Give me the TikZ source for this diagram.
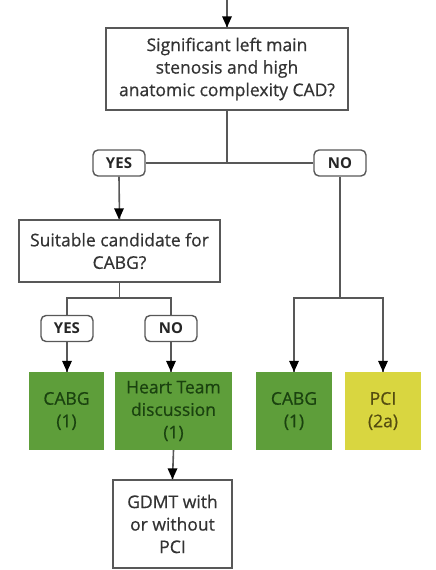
\documentclass[tikz,border=0pt]{standalone}
\usepackage{fontspec}
\setmainfont{Open Sans}
\newfontfamily\medfont{Open Sans}[FakeBold=0.6]
\definecolor{linegray}{HTML}{585858}
\definecolor{txtgray}{HTML}{333333}
\definecolor{recgreen}{HTML}{5E9E3A}
\definecolor{recgreentxt}{HTML}{1A420F}
\definecolor{recyellow}{HTML}{D9D640}
\definecolor{recyellowtxt}{HTML}{544C10}
\tikzset{
  conn/.style={draw=linegray, line width=1.6pt},
  tiphead/.style={fill=black, draw=none},
  qbox/.style={draw=linegray, line width=1.4pt, fill=white, text=txtgray,
    align=center, inner sep=2pt, font=\medfont\fontsize{17.5}{22.5}\selectfont},
  pill/.style={draw=linegray, line width=1.4pt, rounded corners=5pt, fill=white,
    minimum width=52pt, minimum height=26pt, inner sep=0pt,
    font=\bfseries\fontsize{15}{17}\selectfont, text=black!85},
  recbox/.style={fill=recgreen, text=recgreentxt, align=center, inner sep=2pt,
    minimum height=78pt, font=\medfont\fontsize{17.5}{22.5}\selectfont},
  pcibox/.style={recbox, fill=recyellow, text=recyellowtxt},
}
\begin{document}
\begin{tikzpicture}[x=1pt, y=1pt]
\useasboundingbox (0,0) rectangle (436,-570);

% decision boxes
\node[qbox, minimum width=242pt, minimum height=82pt] (q1) at (227,-69)
  {Significant left main\\stenosis and high\\anatomic complexity CAD?};
\node[qbox, minimum width=201pt, minimum height=62pt] (q2) at (119.5,-251)
  {Suitable candidate for\\CABG?};

% answer labels
\node[pill] (yes1) at (119,-163) {YES};
\node[pill] (no1) at (340,-163) {NO};
\node[pill] (yes2) at (67,-328.5) {YES};
\node[pill] (no2) at (171,-328.5) {NO};

% recommendations
\node[recbox, minimum width=75pt] (cabg1) at (66.5,-411) {CABG\\(1)};
\node[recbox, minimum width=117pt] (ht) at (173.5,-411) {Heart Team\\discussion\\(1)};
\node[recbox, minimum width=76pt] (cabg2) at (294,-411) {CABG\\(1)};
\node[pcibox, minimum width=76pt] (pci) at (383,-411) {PCI\\(2a)};

% final step
\node[qbox, minimum width=119pt, minimum height=88pt] (gdmt) at (172.5,-524)
  {GDMT with\\or without\\PCI};

% connectors
\coordinate (entry) at (227,0);
\coordinate (j1) at (227,-163);
\coordinate (s2) at (119.5,-298);
\coordinate (s3) at (340,-298);

\draw[conn] (entry) -- (q1.north);
\draw[conn] (q1.south) -- (j1);
\draw[conn] (yes1.east) -- (no1.west);
\draw[conn] (yes1.south) -- (q2.north);
\draw[conn] (q2.south -| s2) -- (s2);
\draw[conn] (s2) -| (yes2.north);
\draw[conn] (s2) -| (no2.north);
\draw[conn] (yes2.south) -- (cabg1.north -| yes2.south);
\draw[conn] (no2.south) -- (ht.north -| no2.south);
\draw[conn] (no1.south) -- (s3);
\draw[conn] (s3) -| (cabg2.north);
\draw[conn] (s3) -| (pci.north);
\draw[conn] (ht.south) -- (gdmt.north);

% arrowheads, point resting on the target box
\fill[tiphead] (q1.north) -- ++(-5,11) -- ++(10,0) -- cycle;
\fill[tiphead] (q2.north -| yes1.south) -- ++(-5,11) -- ++(10,0) -- cycle;
\fill[tiphead] (cabg1.north -| yes2.south) -- ++(-5,11) -- ++(10,0) -- cycle;
\fill[tiphead] (ht.north -| no2.south) -- ++(-5,11) -- ++(10,0) -- cycle;
\fill[tiphead] (cabg2.north) -- ++(-5,11) -- ++(10,0) -- cycle;
\fill[tiphead] (pci.north) -- ++(-5,11) -- ++(10,0) -- cycle;
\fill[tiphead] (gdmt.north) -- ++(-5,11) -- ++(10,0) -- cycle;
\end{tikzpicture}
\end{document}
